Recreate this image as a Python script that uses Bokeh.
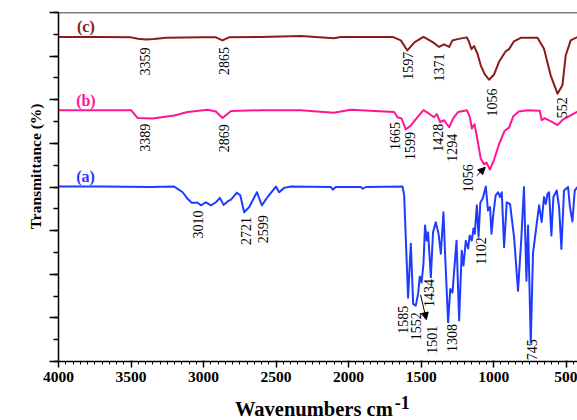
import numpy as np
from bokeh.plotting import figure
from bokeh.layouts import column
from bokeh.models import (Range1d, SingleIntervalTicker, Label, Arrow, NormalHead, Span,
                          Title, Div)
from bokeh.core.properties import value
from bokeh.embed import file_html
from bokeh.resources import INLINE

# ---------------- data ----------------
# (c) trace
wn_c = [4000, 3707, 3500, 3452, 3397, 3342, 3259, 3018, 2915, 2869, 2825, 2605, 2329, 2102, 2054,
        1697, 1640, 1595, 1544, 1484, 1420, 1376, 1342, 1307, 1284, 1250, 1185, 1170, 1153, 1135,
        1112, 1089, 1061, 1032, 997, 963, 917, 894, 860, 813, 698, 653, 607, 560, 526, 503, 469, 421]
t_c = [7.44, 7.44, 7.43, 7.40, 7.38, 7.39, 7.42, 7.43, 7.43, 7.36, 7.43, 7.44, 7.46, 7.41, 7.44,
       7.44, 7.36, 7.13, 7.32, 7.44, 7.32, 7.21, 7.27, 7.21, 7.36, 7.39, 7.43, 7.33, 7.16, 7.23,
       7.06, 6.79, 6.58, 6.46, 6.58, 6.87, 7.11, 7.16, 7.34, 7.42, 7.42, 7.17, 6.56, 6.14, 6.33, 7.02, 7.36, 7.44]

# (b) trace
wn_b = [4000, 3500, 3454, 3351, 3202, 3110, 2972, 2915, 2869, 2811, 2605, 2329, 2102, 1985, 1686,
        1663, 1635, 1606, 1571, 1525, 1484, 1445, 1411, 1392, 1369, 1342, 1307, 1278, 1244, 1185,
        1165, 1150, 1132, 1112, 1089, 1066, 1049, 1026, 997, 963, 924, 894, 865, 827, 765, 682,
        669, 648, 601, 560, 521, 469, 421]
t_b = [5.76, 5.76, 5.58, 5.57, 5.64, 5.72, 5.77, 5.73, 5.58, 5.74, 5.76, 5.76, 5.70, 5.77, 5.72,
       5.60, 5.57, 5.32, 5.41, 5.60, 5.76, 5.68, 5.60, 5.67, 5.49, 5.53, 5.37, 5.58, 5.72, 5.76,
       5.62, 5.34, 5.44, 5.09, 4.65, 4.52, 4.56, 4.40, 4.63, 4.98, 5.29, 5.36, 5.62, 5.73, 5.76, 5.75,
       5.53, 5.58, 5.50, 5.42, 5.55, 5.64, 5.73]

# (a) trace
wn_a = [4000, 3707, 3363, 3202, 3144, 3110, 3082, 3041, 3018, 2984,
        2949, 2915, 2887, 2862, 2834, 2811, 2770, 2747, 2720, 2685,
        2632, 2598, 2559, 2501, 2479, 2444, 2398, 2122, 2109, 2088,
        1916, 1902, 1881, 1628, 1617, 1606, 1590, 1571, 1555, 1537,
        1521, 1509, 1497, 1484, 1473, 1461, 1452, 1433, 1418, 1399,
        1380, 1364, 1346, 1335, 1314, 1299, 1284, 1256, 1238, 1220,
        1208, 1192, 1176, 1165, 1151, 1139, 1130, 1116, 1104, 1092,
        1075, 1054, 1039, 1025, 1015, 1002, 986, 970, 956, 944,
        928, 910, 887, 859, 832, 809, 791, 774, 763, 744,
        729, 703, 687, 669, 653, 641, 629, 618, 602, 588,
        565, 549, 533, 515, 487, 474, 457, 441, 421]
t_a = [4.01, 4.01, 4.00, 4.01, 3.88, 3.73, 3.64, 3.64, 3.58, 3.65,
       3.58, 3.65, 3.75, 3.59, 3.67, 3.71, 3.87, 3.81, 3.42, 3.54,
       3.88, 3.58, 3.77, 4.01, 3.88, 3.98, 4.01, 4.00, 3.94, 4.00,
       4.00, 3.96, 4.00, 4.01, 3.81, 2.85, 1.46, 2.70, 1.32, 1.28,
       1.55, 1.95, 1.81, 2.24, 3.12, 2.77, 2.96, 1.93, 2.96, 3.19,
       2.93, 2.47, 3.42, 2.47, 0.90, 1.66, 1.58, 2.77, 0.94, 2.54,
       2.20, 2.77, 2.59, 2.89, 2.77, 3.05, 2.93, 3.58, 2.86, 3.64,
       3.74, 4.01, 3.46, 3.54, 2.93, 3.39, 3.81, 3.88, 3.77, 3.88,
       2.62, 3.65, 3.61, 2.84, 1.62, 2.84, 4.00, 1.85, 3.12, 0.43,
       2.47, 3.16, 3.58, 3.20, 3.77, 3.61, 3.84, 3.88, 2.89, 3.77,
       3.92, 3.54, 2.58, 3.92, 4.00, 3.54, 3.21, 3.92, 4.00]

# peak labels
labels_c = ["3359", "2865", "1597", "1371", "1056", "552"]
lx_c = [3404, 2856, 1588, 1374, 1013, 531]
ly_c = [7.20, 7.21, 7.10, 7.06, 6.26, 6.06]

labels_b = ["3389", "2869", "1665", "1599", "1428", "1294", "1056"]
lx_b = [3404, 2860, 1677, 1578, 1387, 1289, 1175]
ly_b = [5.45, 5.44, 5.49, 5.26, 5.45, 5.22, 4.52]

labels_a = ["3010", "2721", "2599", "1585", "1552", "1434", "1501", "1308", "1102", "745"]
lx_a = [3041, 2706, 2588, 1623, 1537, 1447, 1427, 1290, 1089, 739]
ly_a = [3.46, 3.31, 3.35, 1.28, 1.13, 1.89, 0.82, 0.86, 2.85, 0.51]

series_names = ["(a)", "(b)", "(c)"]
series_x = [3814, 3811, 3811]
series_y = [4.24, 5.99, 7.67]

# arrows: (x_start, y_start, x_end, y_end)
arrow_b = (1117, 4.26, 1058, 4.45)
arrow_a = (1504, 1.53, 1464, 0.96)

x_ticks = 500
y_label = "Transmittance (%)"
x_label = "Wavenumbers cm"
x_label_sup = "-1"
col_a, col_b, col_c = "#1F3BFF", "#FF1493", "#8B1A1A"
serif = "Liberation Serif"

# ---------------- figure ----------------
p = figure(width=577, height=395, output_backend="svg", toolbar_location=None,
           x_range=Range1d(4000, 422), y_range=Range1d(0, 8),
           min_border_left=58, min_border_right=0, min_border_top=12, min_border_bottom=34)
p.outline_line_color = None
p.grid.grid_line_color = None
p.background_fill_color = "white"
p.border_fill_color = "white"

xa = p.xaxis[0]
xa.ticker = SingleIntervalTicker(interval=x_ticks, num_minor_ticks=10)
xa.major_label_text_font = serif
xa.major_label_text_font_style = "bold"
xa.major_label_text_font_size = "15.5px"
xa.major_label_text_color = "black"
xa.axis_line_width = 1.5
xa.major_tick_line_width = 1.5
xa.minor_tick_line_width = 1
xa.major_tick_out = 6
xa.major_tick_in = 1
xa.minor_tick_out = 3
xa.minor_tick_in = 0
xa.major_label_standoff = 4

ya = p.yaxis[0]
ya.ticker = SingleIntervalTicker(interval=1, num_minor_ticks=2)
ya.major_label_text_font_size = "0px"
ya.major_label_text_color = None
ya.major_label_standoff = 0
ya.axis_line_width = 1.5
ya.major_tick_line_width = 1.5
ya.minor_tick_line_width = 1.5
ya.major_tick_out = 9
ya.major_tick_in = 0
ya.minor_tick_out = 5
ya.minor_tick_in = 0

p.add_layout(Title(text=y_label, align="right", offset=91, standoff=11,
                   text_font=serif, text_font_style="bold", text_font_size="15.5px",
                   text_color="black"), "left")

p.add_layout(Span(location=8, dimension="width", line_color="black", line_width=1.5))

p.line(wn_c, t_c, line_color=col_c, line_width=2, line_join="round")
p.line(wn_b, t_b, line_color=col_b, line_width=2, line_join="round")
p.line(wn_a, t_a, line_color=col_a, line_width=2, line_join="round")

for lab, lx, ly in ((labels_c, lx_c, ly_c), (labels_b, lx_b, ly_b), (labels_a, lx_a, ly_a)):
    p.text(x=lx, y=ly, text=lab, angle=np.pi / 2, text_align="right", text_baseline="middle",
           text_font=value(serif), text_font_size=value("14px"), text_color="black")

for name, sx, sy, col in zip(series_names, series_x, series_y, [col_a, col_b, col_c]):
    p.add_layout(Label(x=sx, y=sy, text=name, text_align="center", text_baseline="middle",
                       text_font=serif, text_font_style="bold", text_font_size="16px",
                       text_color=col))

for (x0, y0, x1, y1) in (arrow_b, arrow_a):
    p.add_layout(Arrow(end=NormalHead(size=7, fill_color="black", line_color="black"),
                       x_start=x0, y_start=y0, x_end=x1, y_end=y1,
                       line_color="black", line_width=1))

html = ('<div style="font-family:\'Liberation Serif\';font-weight:bold;font-size:20.5px;'
        'line-height:20px;padding-left:235px;padding-top:4px;white-space:nowrap;color:black">'
        + x_label +
        '<span style="position:relative;top:-7px;font-size:18px;margin-left:2px">'
        + x_label_sup + '</span></div>')
xlab = Div(text=html, width=577, height=25, margin=(0, 0, 0, 0))

layout = column(p, xlab, spacing=0)

open("out.html", "w").write(file_html(layout, INLINE))
